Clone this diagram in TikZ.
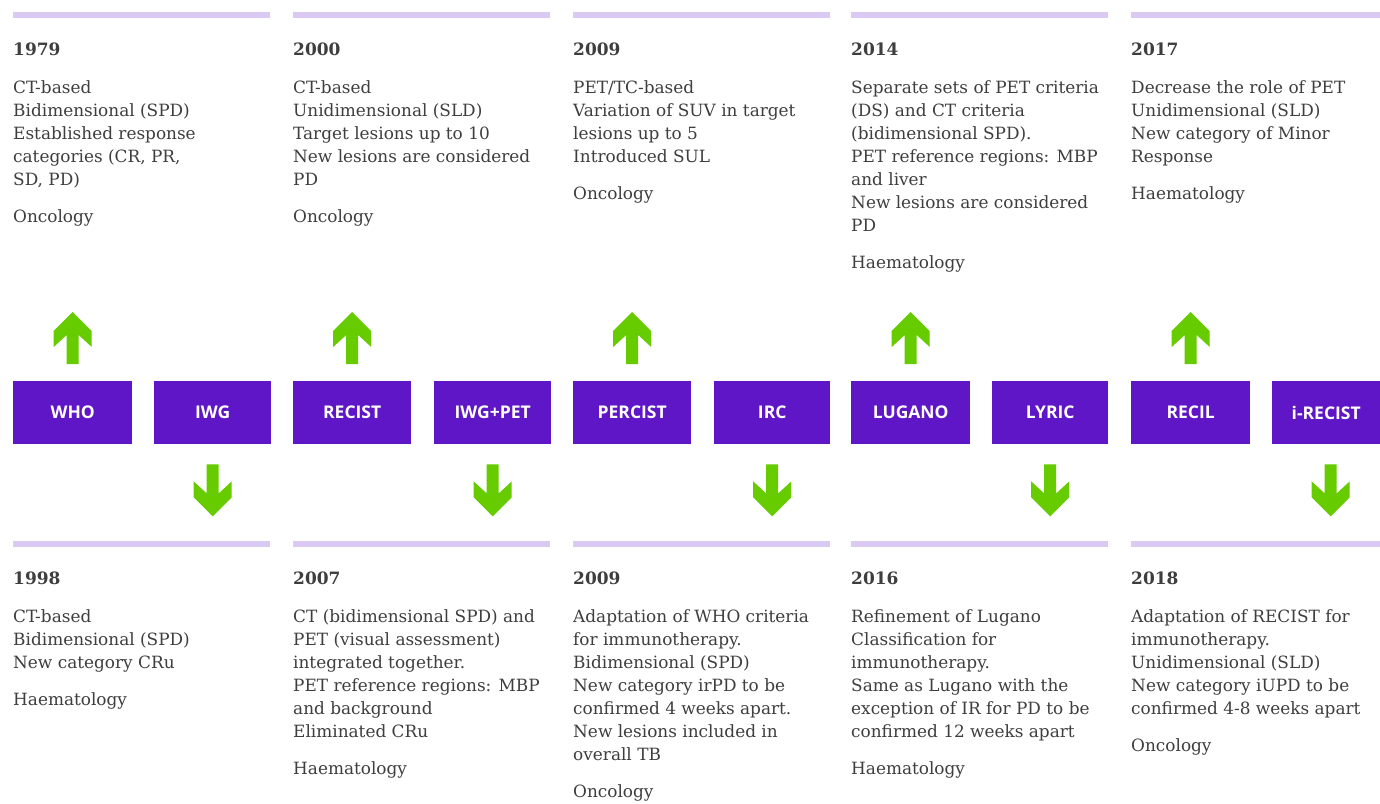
\documentclass[tikz,border=0pt]{standalone}
\usepackage{fontspec}
\setmainfont{DejaVu Serif}
\newfontfamily\boxfont{Open Sans}
\usetikzlibrary{calc}
\definecolor{boxpurple}{RGB}{95,22,199}
\definecolor{barlav}{RGB}{217,201,243}
\definecolor{arrgreen}{RGB}{102,204,0}
\definecolor{txtgray}{RGB}{62,62,62}
\begin{document}
\begin{tikzpicture}[x=1pt,y=-1pt,
  critbox/.style={fill=boxpurple, draw=none, inner sep=0pt, anchor=north west,
    minimum height=63pt, text=white, font=\boxfont\bfseries\fontsize{17.5}{20}\selectfont},
  bar/.style={fill=barlav, draw=none},
  yearlabel/.style={anchor=base west, inner sep=0pt, text=txtgray,
    font=\bfseries\fontsize{17}{20}\selectfont},
  bodytext/.style={anchor=base west, inner sep=0pt, align=left, text=txtgray,
    font=\fontsize{16.9}{23}\selectfont},
  uparr/.pic={\fill[arrgreen] (0,0) -- (19,19) -- (19,35) -- (6,23) -- (6,52) -- (-6,52)
     -- (-6,23) -- (-19,35) -- (-19,19) -- cycle;}
]
\useasboundingbox[fill=white] (0,0) rectangle (1380,803);

% bars
\foreach \xa/\xb in {13/270,293/550,573/830,851/1108,1131/1380}{
  \fill[bar] (\xa,11.5) rectangle (\xb,17.5);
  \fill[bar] (\xa,540.5) rectangle (\xb,546.5);
}

% criteria boxes
\node[critbox, minimum width=119pt] (who) at (13,381) {WHO};
\node[critbox, minimum width=117pt] (iwg) at (154,381) {IWG};
\node[critbox, minimum width=118pt] (recist) at (293,381) {RECIST};
\node[critbox, minimum width=117pt] (iwgpet) at (434,381) {IWG+PET};
\node[critbox, minimum width=118pt] (percist) at (573,381) {PERCIST};
\node[critbox, minimum width=116pt] (irc) at (714,381) {IRC};
\node[critbox, minimum width=119pt] (lugano) at (851,381) {LUGANO};
\node[critbox, minimum width=116pt] (lyric) at (992,381) {LYRIC};
\node[critbox, minimum width=119pt] (recil) at (1131,381) {RECIL};
\node[critbox, minimum width=108pt] (irecist) at (1272,381) {i-RECIST};

% arrows
\foreach \b in {who,recist,percist,lugano,recil}{
  \pic at ([yshift=69pt]\b.north) {uparr};
}
\foreach \b in {iwg,iwgpet,irc,lyric}{
  \pic[rotate=180] at ([yshift=-72pt]\b.south) {uparr};
}
\pic[rotate=180] at ([xshift=4.5pt,yshift=-72pt]irecist.south) {uparr};

% top texts (node base = baseline of last line)
\node[yearlabel] (y1979) at (13,55) {1979};
\node[bodytext] (t1979) at (13,222) {CT-based\\Bidimensional (SPD)\\Established response\\categories (CR, PR,\\SD, PD)\\[14pt]Oncology};

\node[yearlabel] (y2000) at (293,55) {2000};
\node[bodytext] (t2000) at (293,222) {CT-based\\Unidimensional (SLD)\\Target lesions up to 10\\New lesions are considered\\PD\\[14pt]Oncology};

\node[yearlabel] (y2009a) at (573,55) {2009};
\node[bodytext] (t2009a) at (573,199) {PET/TC-based\\Variation of SUV in target\\lesions up to 5\\Introduced SUL\\[14pt]Oncology};

\node[yearlabel] (y2014) at (851,55) {2014};
\node[bodytext] (t2014) at (851,268) {Separate sets of PET criteria\\(DS) and CT criteria\\(bidimensional SPD).\\PET reference regions: MBP\\and liver\\New lesions are considered\\PD\\[14pt]Haematology};

\node[yearlabel] (y2017) at (1131,55) {2017};
\node[bodytext] (t2017) at (1131,199) {Decrease the role of PET\\Unidimensional (SLD)\\New category of Minor\\Response\\[14pt]Haematology};

% bottom texts
\node[yearlabel] (y1998) at (13,584) {1998};
\node[bodytext] (t1998) at (13,705) {CT-based\\Bidimensional (SPD)\\New category CRu\\[14pt]Haematology};

\node[yearlabel] (y2007) at (293,584) {2007};
\node[bodytext] (t2007) at (293,774) {CT (bidimensional SPD) and\\PET (visual assessment)\\integrated together.\\PET reference regions: MBP\\and background\\Eliminated CRu\\[14pt]Haematology};

\node[yearlabel] (y2009b) at (573,584) {2009};
\node[bodytext] (t2009b) at (573,797) {Adaptation of WHO criteria\\for immunotherapy.\\Bidimensional (SPD)\\New category irPD to be\\confirmed 4 weeks apart.\\New lesions included in\\overall TB\\[14pt]Oncology};

\node[yearlabel] (y2016) at (851,584) {2016};
\node[bodytext] (t2016) at (851,774) {Refinement of Lugano\\Classification for\\immunotherapy.\\Same as Lugano with the\\exception of IR for PD to be\\confirmed 12 weeks apart\\[14pt]Haematology};

\node[yearlabel] (y2018) at (1131,584) {2018};
\node[bodytext] (t2018) at (1131,751) {Adaptation of RECIST for\\immunotherapy.\\Unidimensional (SLD)\\New category iUPD to be\\confirmed 4-8 weeks apart\\[14pt]Oncology};
\end{tikzpicture}
\end{document}
